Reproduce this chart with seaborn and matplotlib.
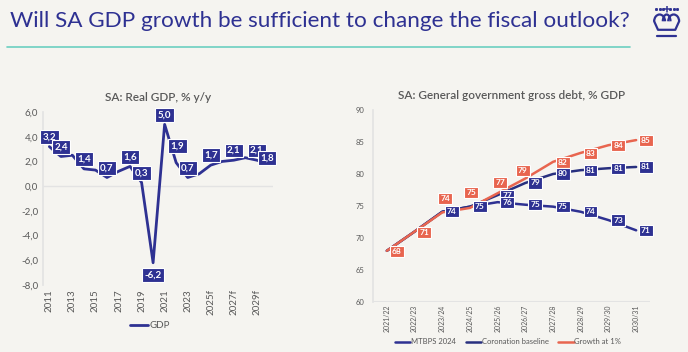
import numpy as np
import pandas as pd
import seaborn as sns
import matplotlib.pyplot as plt
from matplotlib.patches import Arc

# ---- data ----
years = [str(y) for y in range(2011, 2025)] + [f"{y}f" for y in range(2025, 2031)]
gdp = [3.2, 2.4, 2.5, 1.4, 1.3, 0.7, 1.2, 1.6, 0.3, -6.2,
       5.0, 1.9, 0.7, 1.0, 1.7, 2.0, 2.1, 2.3, 2.1, 1.8]
gdp_labelled = [0, 1, 3, 5, 7, 8, 9, 10, 11, 12, 14, 16, 18, 19]

fy = ["2021/22", "2022/23", "2023/24", "2024/25", "2025/26",
      "2026/27", "2027/28", "2028/29", "2029/30", "2030/31"]
mtbps = [68, 71, 74.1, 74.9, 75.6, 75.2, 74.9, 74.1, 72.8, 71.2]
coronation = [68, 71, 74.1, 74.9, 76.7, 78.6, 80.0, 80.6, 80.9, 81.1]
growth1 = [68, 71, 74.0, 74.7, 77.0, 79.3, 81.9, 83.3, 84.5, 85.3]

NAVY = "#2E3192"
RED = "#E8654F"
GREY = "#595959"
BG = "#F5F4F0"

sns.set_theme(style="white")
plt.rcParams["font.family"] = ["Lato", "DejaVu Sans"]

fig = plt.figure(figsize=(6.88, 3.52), dpi=100, facecolor=BG)

# ---- header ----
fig.text(10 / 688, 1 - 21 / 352, "Will SA GDP growth be sufficient to change the fiscal outlook?",
         color=NAVY, fontsize=16.2, va="center", ha="left")
fig.add_artist(plt.Line2D([7 / 688, 630 / 688], [1 - 47 / 352] * 2, color="#6CCFC0", lw=1.2))

# crown logo
cax = fig.add_axes([650 / 688, 1 - 40 / 352, 32 / 688, 34 / 352])
cax.set_xlim(0, 1); cax.set_ylim(0, 1); cax.axis("off")
for x in [0.2, 0.3, 0.4, 0.64, 0.74, 0.84]:
    cax.plot(x, 0.92, "s", ms=1.1, color=NAVY)
cax.plot([0.52, 0.52], [0.82, 1.0], color=NAVY, lw=1.1)
cax.plot([0.45, 0.59], [0.91, 0.91], color=NAVY, lw=1.1)
for cx, w in [(0.3, 0.34), (0.52, 0.24), (0.74, 0.34)]:
    cax.add_patch(Arc((cx, 0.55), w, 0.4, theta1=0, theta2=180, color=NAVY, lw=1.6))
cax.plot([0.13, 0.25, 0.79, 0.91], [0.55, 0.3, 0.3, 0.55], color=NAVY, lw=1.6)
cax.plot([0.22, 0.82], [0.12, 0.12], color=NAVY, lw=1.6)


def style_axis(ax):
    ax.set_facecolor(BG)
    for s in ["top", "right", "bottom"]:
        ax.spines[s].set_visible(False)
    ax.spines["left"].set_color("#E3E3E3")
    ax.tick_params(axis="both", length=0, colors=GREY)
    ax.set_xlabel("")
    ax.set_ylabel("")


# ---- left: real GDP ----
ax1 = fig.add_axes([43 / 688, 1 - 285 / 352, 230 / 688, 173 / 352])
df1 = pd.DataFrame({"year": years, "GDP": gdp})
sns.lineplot(data=df1, x="year", y="GDP", ax=ax1, color=NAVY, lw=2, label="GDP", sort=False)
style_axis(ax1)
ax1.set_ylim(-8, 6)
ax1.set_xlim(-0.55, 19.4)
ax1.axhline(0, color="#E3E3E3", lw=1, zorder=0)
ax1.set_yticks(np.arange(-8, 7, 2))
ax1.set_yticklabels([f"{v:.1f}".replace(".", ",") for v in np.arange(-8, 7, 2)], fontsize=7)
ax1.set_xticks(range(0, 20, 2))
ax1.set_xticklabels(years[::2], rotation=90, fontsize=7)
ax1.tick_params(axis="x", pad=3)
offs1 = {9: (0, -9), 11: (1, 12), 19: (-1, 4)}
for i in gdp_labelled:
    dx, dy = offs1.get(i, (0, 7))
    ax1.annotate(f"{gdp[i]:.1f}".replace(".", ","), (i, gdp[i]), xytext=(dx, dy),
                 textcoords="offset points", ha="center", va="center",
                 fontsize=7, fontweight="bold", color="white", zorder=5,
                 bbox=dict(boxstyle="square,pad=0.25", fc=NAVY, ec="white", lw=0.8))
ax1.legend(loc="center", bbox_to_anchor=(150 / 688, 26 / 352), bbox_transform=fig.transFigure,
           frameon=False, fontsize=7, handlelength=1.8, handletextpad=0.2, labelcolor=GREY)
ax1.set_title("SA: Real GDP, % y/y", fontsize=8.5, color=GREY, fontweight="semibold", pad=8)

# ---- right: gross debt ----
ax2 = fig.add_axes([373 / 688, 1 - 302 / 352, 277 / 688, 192 / 352])
df2 = pd.DataFrame({"fy": fy, "MTBPS 2024": mtbps, "Coronation baseline": coronation,
                    "Growth at 1%": growth1})
sns.lineplot(data=df2, x="fy", y="MTBPS 2024", ax=ax2, color=NAVY, lw=1.8, label="MTBPS 2024", sort=False)
sns.lineplot(data=df2, x="fy", y="Coronation baseline", ax=ax2, color="#28307F", lw=1.8,
             label="Coronation baseline", sort=False)
sns.lineplot(data=df2, x="fy", y="Growth at 1%", ax=ax2, color=RED, lw=1.8, label="Growth at 1%", sort=False)
style_axis(ax2)
ax2.set_ylim(60, 90)
ax2.set_xlim(-0.5, 9.5)
ax2.axhline(60, color="#E3E3E3", lw=1.5, zorder=0)
ax2.set_yticks(range(60, 91, 5))
ax2.tick_params(axis="y", labelsize=5.5, pad=6)
ax2.tick_params(axis="x", labelsize=5, rotation=90, pad=2)


def box(ax, x, y, txt, fc, dx=7, dy=0):
    ax.annotate(txt, (x, y), xytext=(dx, dy), textcoords="offset points",
                ha="center", va="center", fontsize=6, fontweight="bold", color="white", zorder=5,
                bbox=dict(boxstyle="square,pad=0.25", fc=fc, ec="white", lw=0.8))


red_offs = {2: (2, 10), 3: (1, 11), 4: (2, 8), 5: (-2, 6)}
for i, v in enumerate(growth1):
    dx, dy = red_offs.get(i, (7, -0.5))
    box(ax2, i, v, f"{round(v)}", RED, dx, dy)
for i in range(2, 10):
    box(ax2, i, coronation[i], f"{round(coronation[i])}", NAVY)
for i in range(4, 10):
    box(ax2, i, mtbps[i], f"{round(mtbps[i])}", NAVY)

ax2.legend(loc="center", bbox_to_anchor=(508 / 688, 10 / 352), bbox_transform=fig.transFigure,
           ncol=3, frameon=False, fontsize=5.5, handlelength=2.0, handletextpad=0.1,
           columnspacing=1.3, labelcolor=GREY)
ax2.set_title("SA: General government gross debt, % GDP", fontsize=8.5, color=GREY,
              fontweight="semibold", pad=8)

fig.savefig("out.png", dpi=100, facecolor=BG)
